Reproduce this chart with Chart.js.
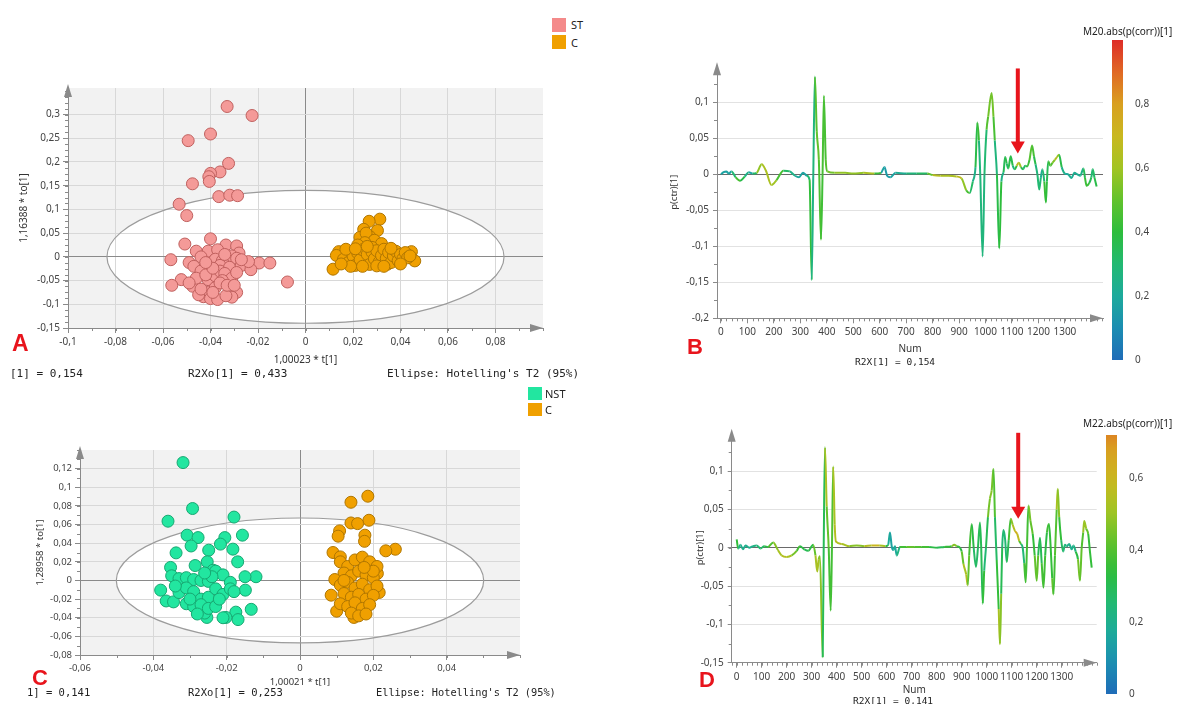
<!DOCTYPE html>
<html>
<head>
<meta charset="utf-8">
<script src="https://cdn.jsdelivr.net/npm/chart.js@4"></script>
<style>
body { margin: 0; background: #fff; }
#page { position: relative; width: 1196px; height: 704px; overflow: hidden; background: #fff; font-family: "Noto Sans", sans-serif; }
canvas { position: absolute; }
.t { position: absolute; white-space: nowrap; color: #222; line-height: 1; }
.mono { font-family: "DejaVu Sans Mono", monospace; }
.big { font-family: "Liberation Sans", Arial, sans-serif; font-weight: bold; color: #e8141c; }
.sw { position: absolute; width: 14px; height: 14px; }
</style>
</head>
<body>
<div id="page">
  <canvas id="chA" width="600" height="330" style="left:0;top:60px"></canvas>
  <canvas id="chC" width="560" height="284" style="left:0;top:420px"></canvas>
  <canvas id="chB" width="480" height="340" style="left:640px;top:40px"></canvas>
  <canvas id="chD" width="480" height="284" style="left:640px;top:420px"></canvas>
  <canvas id="cbB" width="96" height="340" style="left:1100px;top:30px"></canvas>
  <canvas id="cbD" width="102" height="279" style="left:1094px;top:425px"></canvas>

  <div class="sw" style="left:552px;top:18px;background:#f48a8a"></div>
  <div class="t" style="left:571px;top:19px;font-size:11px">ST</div>
  <div class="sw" style="left:552px;top:35px;background:#f0a000"></div>
  <div class="t" style="left:571px;top:37px;font-size:11px">C</div>

  <div class="sw" style="left:528px;top:387px;height:13px;background:#22e6a0"></div>
  <div class="t" style="left:545px;top:388px;font-size:11px">NST</div>
  <div class="sw" style="left:528px;top:403px;height:13px;background:#f0a000"></div>
  <div class="t" style="left:545px;top:404px;font-size:11px">C</div>

  <div class="t big" style="left:12px;top:332px;font-size:23px">A</div>
  <div class="t big" style="left:32px;top:667px;font-size:22px">C</div>
  <div class="t big" style="left:687px;top:336px;font-size:22px">B</div>
  <div class="t big" style="left:699px;top:669px;font-size:22px">D</div>

  <div class="t mono" style="left:10px;top:368px;font-size:11px">[1] = 0,154</div>
  <div class="t mono" style="left:188px;top:368px;font-size:11px">R2Xo[1] = 0,433</div>
  <div class="t mono" style="left:387px;top:368px;font-size:11px">Ellipse: Hotelling's T2 (95%)</div>

  <div class="t mono" style="left:27px;top:687px;font-size:10.5px">1] = 0,141</div>
  <div class="t mono" style="left:188px;top:687px;font-size:10.5px">R2Xo[1] = 0,253</div>
  <div class="t mono" style="left:376px;top:687px;font-size:10.3px">Ellipse: Hotelling's T2 (95%)</div>

  <div class="t mono" style="left:855px;top:357px;font-size:9.5px">R2X[1] = 0,154</div>
  <div class="t mono" style="left:853px;top:696px;font-size:9.5px">R2X[1] = 0,141</div>

  <div class="t" style="left:1083px;top:26px;font-size:10px">M20.abs(p(corr))[1]</div>
  <div class="t" style="left:1083px;top:418px;font-size:10px">M22.abs(p(corr))[1]</div>
</div>

<script>
// ---------- data ----------

// panel A, ST group (t[1], to[1])
const stX = [
  -0.033, -0.0225, -0.040, -0.0494, -0.0324, -0.036, -0.040, -0.0407, -0.0405, -0.0476,
  -0.0365, -0.0319, -0.0286, -0.0532, -0.050, -0.040, -0.0508, -0.0335, -0.029, -0.041,
  -0.046, -0.028, -0.037, -0.0567, -0.049, -0.044, -0.041, -0.038, -0.035, -0.033,
  -0.031, -0.029, -0.025, -0.0195, -0.015, -0.047, -0.036, -0.032, -0.027, -0.0523,
  -0.0563, -0.0475, -0.044, -0.046, -0.041, -0.038, -0.036, -0.034, -0.031, -0.029,
  -0.023, -0.0076, -0.042, -0.039, -0.035, -0.049, -0.024, -0.043, -0.0405, -0.029,
  -0.031, -0.045, -0.040, -0.037, -0.0335, -0.038, -0.036, -0.033, -0.044, -0.039,
  -0.027, -0.030, -0.042, -0.034
];
const stY = [
  0.317, 0.298, 0.259, 0.245, 0.197, 0.179, 0.176, 0.169, 0.159, 0.154,
  0.127, 0.130, 0.129, 0.111, 0.087, 0.038, 0.027, 0.025, 0.023, 0.012,
  0.012, 0.008, 0.015, -0.006, -0.012, 0.000, -0.014, -0.005, -0.008, -0.012,
  0.002, -0.003, -0.012, -0.013, -0.013, -0.020, -0.018, -0.022, -0.018, -0.048,
  -0.060, -0.062, -0.030, -0.045, -0.048, -0.040, -0.030, -0.035, -0.045, -0.033,
  -0.027, -0.053, -0.038, -0.024, -0.050, -0.055, -0.010, -0.084, -0.074, -0.075,
  -0.085, -0.080, -0.088, -0.090, -0.082, -0.065, -0.055, -0.060, -0.068, -0.075,
  -0.006, -0.060, -0.012, 0.005
];
// panel A, C group
const cAX = [
  0.0313, 0.0268, 0.0303, 0.0245, 0.0229, 0.027, 0.0255, 0.029, 0.025, 0.032,
  0.022, 0.028, 0.014, 0.0116, 0.046, 0.0446, 0.0417, 0.0345, 0.0257, 0.0185,
  0.013, 0.016, 0.018, 0.020, 0.021, 0.022, 0.023, 0.024, 0.026, 0.027,
  0.028, 0.029, 0.030, 0.031, 0.032, 0.033, 0.034, 0.035, 0.036, 0.037,
  0.038, 0.039, 0.040, 0.041, 0.042, 0.043, 0.017, 0.019, 0.024, 0.030,
  0.036, 0.040, 0.015, 0.021, 0.033, 0.026, 0.044
];
const cAY = [
  0.0795, 0.075, 0.0555, 0.058, 0.041, 0.043, 0.050, 0.035, 0.030, 0.028,
  0.025, 0.020, 0.011, -0.026, -0.0085, 0.011, 0.004, -0.0155, -0.010, 0.011,
  0.003, -0.005, -0.012, 0.002, -0.018, 0.008, -0.006, 0.015, 0.005, -0.016,
  0.010, -0.004, 0.013, -0.011, 0.003, 0.016, -0.003, 0.009, -0.012, 0.002,
  0.012, -0.008, 0.005, -0.004, 0.009, -0.002, 0.016, -0.020, -0.020, -0.019,
  0.018, -0.015, -0.015, 0.017, -0.020, 0.022, 0.002
];
// panel C, NST group
const nstX = [
  -0.0319, -0.0293, -0.036, -0.018, -0.0308, -0.0278, -0.0297, -0.0205, -0.0217, -0.0157,
  -0.0183, -0.0338, -0.0249, -0.017, -0.0253, -0.0353, -0.0286, -0.012, -0.015, -0.038,
  -0.0365, -0.0345, -0.0133, -0.0175, -0.0169, -0.0202, -0.0254, -0.026, -0.0149, -0.0237,
  -0.035, -0.033, -0.031, -0.029, -0.027, -0.025, -0.023, -0.021, -0.019, -0.033,
  -0.031, -0.029, -0.027, -0.025, -0.023, -0.021, -0.019, -0.018, -0.031, -0.029,
  -0.027, -0.025, -0.023, -0.021, -0.028, -0.030, -0.024, -0.026, -0.034, -0.022
];
const nstY = [
  0.1265, 0.0772, 0.0636, 0.068, 0.0486, 0.046, 0.037, 0.046, 0.039, 0.0486,
  0.0336, 0.0296, 0.0325, 0.020, 0.020, 0.014, 0.016, 0.004, 0.004, -0.0104,
  -0.022, -0.023, -0.031, -0.034, -0.042, -0.0397, -0.0397, -0.035, -0.0104, 0.011,
  0.005, 0.002, 0.003, 0.001, 0.000, -0.001, 0.010, 0.006, -0.002, -0.013,
  -0.008, -0.012, -0.020, -0.018, -0.009, -0.015, -0.009, -0.012, -0.025, -0.028,
  -0.026, -0.030, -0.028, -0.040, -0.036, -0.020, 0.004, 0.008, -0.006, -0.020
];
// panel C, C group
const cCX = [
  0.0185, 0.0139, 0.0188, 0.0139, 0.0157, 0.0108, 0.0104, 0.0177, 0.0176, 0.026,
  0.0234, 0.009, 0.011, 0.010, 0.0147, 0.0176, 0.0085, 0.0216, 0.0211, 0.011,
  0.013, 0.015, 0.017, 0.019, 0.021, 0.012, 0.014, 0.016, 0.018, 0.020,
  0.0095, 0.011, 0.013, 0.015, 0.017, 0.019, 0.021, 0.012, 0.014, 0.016,
  0.018, 0.020, 0.011, 0.013, 0.015, 0.017, 0.019, 0.014, 0.016, 0.018,
  0.012, 0.020, 0.0175
];
const cCY = [
  0.0904, 0.0839, 0.0646, 0.0617, 0.061, 0.0532, 0.0475, 0.0486, 0.042, 0.0335,
  0.0318, 0.030, 0.0253, -0.033, -0.0397, -0.033, -0.0158, -0.0129, 0.0075, 0.020,
  0.015, 0.022, 0.025, 0.020, 0.015, 0.008, 0.005, 0.010, 0.006, 0.003,
  0.001, -0.005, -0.002, -0.008, -0.004, -0.010, -0.006, -0.014, -0.018, -0.015,
  -0.020, -0.016, -0.025, -0.028, -0.024, -0.030, -0.026, -0.035, -0.038, -0.036,
  0.000, 0.010, 0.014
];

// panel B loading line: Num, p(ctr)[1], abs(p(corr))
const bNum = [
  0, 10, 20, 30, 40, 55, 72, 90, 105, 120,
  135, 154, 170, 191, 210, 236, 260, 280, 295, 310,
  325, 335, 343, 349, 355, 362, 370, 378, 384, 389,
  396, 402, 430, 470, 500, 540, 580, 605, 618, 628,
  640, 660, 700, 740, 780, 800, 830, 860, 890, 910,
  927, 940, 952, 962, 969, 975, 980, 989, 996, 1004,
  1010, 1023, 1030, 1035, 1043, 1052, 1060, 1068, 1074, 1080,
  1086, 1095, 1103, 1111, 1118, 1126, 1134, 1142, 1150, 1157,
  1166, 1176, 1183, 1189, 1196, 1203, 1209, 1215, 1222, 1228,
  1232, 1237, 1245, 1253, 1262, 1270, 1278, 1288, 1300, 1312,
  1325, 1336, 1347, 1358, 1370, 1376, 1382, 1392, 1400, 1405,
  1412, 1420
];
const bVal = [
  0.000, 0.003, 0.004, 0.001, 0.004, -0.004, -0.009, -0.003, 0.003, 0.001,
  0.002, 0.014, 0.005, -0.015, -0.008, 0.005, 0.004, -0.002, -0.004, 0.002,
  -0.002, -0.008, -0.147, 0.000, 0.136, 0.060, 0.020, -0.091, 0.000, 0.109,
  0.020, 0.004, 0.002, 0.002, 0.001, 0.002, 0.001, 0.002, 0.010, -0.002,
  -0.004, 0.002, 0.001, 0.001, 0.001, -0.001, -0.002, -0.002, -0.003, -0.006,
  -0.022, -0.026, -0.010, 0.010, 0.072, 0.047, 0.000, -0.114, 0.000, 0.062,
  0.080, 0.113, 0.080, 0.047, 0.000, -0.103, -0.010, 0.003, 0.024, 0.015,
  0.008, 0.025, 0.012, 0.007, 0.012, 0.016, 0.010, 0.007, 0.012, 0.011,
  0.020, 0.040, 0.025, 0.014, 0.000, -0.021, -0.005, 0.007, -0.010, -0.039,
  -0.010, 0.018, 0.012, 0.016, 0.020, 0.024, 0.027, 0.010, 0.001, 0.000,
  -0.005, 0.002, 0.000, -0.002, 0.008, -0.005, -0.016, -0.012, -0.004, 0.007,
  -0.005, -0.017
];
const bCorr = [
  0.15, 0.20, 0.15, 0.20, 0.15, 0.45, 0.45, 0.30, 0.20, 0.15,
  0.50, 0.65, 0.60, 0.65, 0.55, 0.35, 0.30, 0.20, 0.20, 0.15,
  0.20, 0.40, 0.42, 0.10, 0.45, 0.50, 0.50, 0.42, 0.45, 0.45,
  0.45, 0.50, 0.55, 0.60, 0.55, 0.60, 0.65, 0.20, 0.15, 0.15,
  0.15, 0.20, 0.25, 0.30, 0.35, 0.65, 0.65, 0.60, 0.65, 0.70,
  0.45, 0.45, 0.20, 0.30, 0.45, 0.40, 0.15, 0.40, 0.15, 0.45,
  0.50, 0.55, 0.50, 0.40, 0.15, 0.60, 0.20, 0.30, 0.40, 0.35,
  0.30, 0.45, 0.30, 0.25, 0.55, 0.80, 0.40, 0.30, 0.35, 0.40,
  0.45, 0.50, 0.40, 0.35, 0.20, 0.40, 0.20, 0.25, 0.35, 0.50,
  0.30, 0.40, 0.45, 0.50, 0.60, 0.70, 0.45, 0.30, 0.20, 0.20,
  0.25, 0.20, 0.25, 0.20, 0.30, 0.40, 0.45, 0.40, 0.30, 0.30,
  0.35, 0.40
];

// panel D loading line
const dNum = [
  0, 6, 15, 25, 35, 50, 65, 80, 95, 110,
  125, 146, 165, 180, 200, 220, 240, 253, 270, 286,
  306, 315, 322, 328, 333, 344, 348, 353, 360, 368,
  376, 381, 386, 392, 397, 420, 450, 480, 510, 540,
  570, 595, 606, 613, 620, 626, 633, 640, 653, 680,
  710, 740, 770, 800, 830, 860, 870, 880, 893, 900,
  907, 918, 924, 930, 940, 948, 957, 965, 973, 978,
  984, 990, 997, 1005, 1013, 1020, 1027, 1033, 1040, 1048,
  1053, 1058, 1062, 1067, 1074, 1080, 1088, 1096, 1104, 1113,
  1122, 1130, 1137, 1144, 1150, 1156, 1161, 1167, 1175, 1184,
  1192, 1200, 1206, 1213, 1220, 1227, 1234, 1241, 1249, 1256,
  1262, 1267, 1273, 1280, 1284, 1290, 1298, 1306, 1313, 1320,
  1330, 1340, 1347, 1356, 1365, 1373, 1380, 1386, 1390, 1398,
  1406, 1413, 1420
];
const dVal = [
  0.011, -0.001, 0.004, -0.002, 0.003, 0.000, 0.002, 0.003, -0.001, 0.002,
  0.001, 0.007, -0.003, -0.010, -0.012, -0.010, -0.004, 0.002, -0.002, -0.004,
  0.004, -0.010, -0.031, -0.015, -0.011, -0.143, 0.000, 0.131, 0.054, 0.000,
  -0.082, 0.000, 0.106, 0.030, 0.008, 0.005, 0.002, 0.003, 0.002, 0.003,
  0.003, 0.002, 0.004, 0.020, 0.002, -0.003, 0.002, -0.010, 0.001, 0.001,
  0.001, 0.001, 0.001, 0.000, 0.001, 0.002, 0.004, 0.002, 0.000, -0.005,
  -0.021, -0.035, -0.049, -0.010, 0.031, 0.000, -0.025, 0.000, 0.033, 0.000,
  -0.073, -0.030, 0.000, 0.040, 0.064, 0.075, 0.103, 0.040, -0.016, -0.080,
  -0.126, -0.060, 0.000, 0.023, 0.010, -0.019, 0.010, 0.038, 0.030, 0.022,
  0.018, 0.009, 0.005, 0.000, -0.020, -0.045, 0.000, 0.055, 0.035, 0.018,
  -0.010, -0.043, -0.010, 0.013, -0.020, -0.052, -0.010, 0.020, 0.031, 0.000,
  -0.040, -0.061, -0.010, 0.050, 0.077, 0.040, 0.010, -0.005, 0.004, 0.002,
  0.005, -0.002, 0.003, -0.005, -0.015, -0.043, 0.000, 0.020, 0.035, 0.025,
  0.018, -0.005, -0.026
];
const dCorr = [
  0.45, 0.25, 0.20, 0.20, 0.20, 0.20, 0.20, 0.25, 0.25, 0.30,
  0.35, 0.45, 0.50, 0.55, 0.55, 0.50, 0.40, 0.35, 0.30, 0.30,
  0.35, 0.50, 0.55, 0.50, 0.45, 0.50, 0.10, 0.50, 0.55, 0.30,
  0.45, 0.30, 0.50, 0.55, 0.55, 0.55, 0.50, 0.45, 0.50, 0.60,
  0.60, 0.45, 0.20, 0.15, 0.15, 0.15, 0.20, 0.15, 0.30, 0.45,
  0.40, 0.40, 0.35, 0.30, 0.30, 0.40, 0.55, 0.40, 0.30, 0.35,
  0.50, 0.55, 0.55, 0.30, 0.45, 0.20, 0.35, 0.20, 0.40, 0.20,
  0.40, 0.30, 0.20, 0.40, 0.50, 0.45, 0.45, 0.35, 0.20, 0.50,
  0.55, 0.40, 0.20, 0.30, 0.20, 0.30, 0.30, 0.45, 0.50, 0.60,
  0.65, 0.50, 0.30, 0.20, 0.30, 0.45, 0.30, 0.45, 0.45, 0.40,
  0.30, 0.55, 0.30, 0.30, 0.30, 0.45, 0.30, 0.35, 0.40, 0.30,
  0.40, 0.45, 0.30, 0.50, 0.55, 0.40, 0.30, 0.25, 0.25, 0.20,
  0.20, 0.20, 0.20, 0.25, 0.40, 0.50, 0.35, 0.45, 0.55, 0.45,
  0.40, 0.30, 0.40
];

// tick labels
const aXTicks = [-0.1, -0.08, -0.06, -0.04, -0.02, 0, 0.02, 0.04, 0.06, 0.08];
const aYTicks = [-0.15, -0.1, -0.05, 0, 0.05, 0.1, 0.15, 0.2, 0.25, 0.3];
const cXTicks = [-0.06, -0.04, -0.02, 0, 0.02, 0.04];
const cYTicks = [-0.08, -0.06, -0.04, -0.02, 0, 0.02, 0.04, 0.06, 0.08, 0.1, 0.12];
const numTicks = [0, 100, 200, 300, 400, 500, 600, 700, 800, 900, 1000, 1100, 1200, 1300];
const bYTicks = [-0.2, -0.15, -0.1, -0.05, 0, 0.05, 0.1];
const dYTicks = [-0.15, -0.1, -0.05, 0, 0.05, 0.1];
const cbBTicks = [0, 0.2, 0.4, 0.6, 0.8];
const cbDTicks = [0, 0.2, 0.4, 0.6];

// ---------- helpers ----------
Chart.defaults.font.family = '"Noto Sans", sans-serif';
Chart.defaults.color = '#444';

const cmapStops = [
  [0, '#1f6cb8'], [0.1, '#1b8db2'], [0.2, '#1daa9c'], [0.3, '#22b972'], [0.4, '#2dbd3c'],
  [0.5, '#62c22c'], [0.6, '#a2c423'], [0.7, '#c9b81f'], [0.8, '#d9a020'], [0.9, '#e06824'], [1, '#de2c28']
];
function hexRgb(h) { return [1, 3, 5].map(i => parseInt(h.substr(i, 2), 16)); }
function cmap(t) {
  t = Math.max(0, Math.min(1, t));
  for (let i = 1; i < cmapStops.length; i++) {
    const [t1, c1] = cmapStops[i];
    if (t <= t1) {
      const [t0, c0] = cmapStops[i - 1];
      const f = (t - t0) / (t1 - t0);
      const a = hexRgb(c0), b = hexRgb(c1);
      return 'rgb(' + a.map((v, k) => Math.round(v + (b[k] - v) * f)).join(',') + ')';
    }
  }
  return cmapStops[cmapStops.length - 1][1];
}

function fmt(v) {
  const r = Math.round(v * 1000) / 1000;
  return (r === 0 ? '0' : String(r)).replace('.', ',');
}
function fixedTicks(list) {
  return scale => { scale.ticks = list.map(v => ({ value: v })); };
}
function pts(xs, ys) { return xs.map((x, i) => ({ x: x, y: ys[i] })); }

function ellipsePath(chart, e) {
  const { ctx, scales: { x, y } } = chart;
  const cx = x.getPixelForValue(0), cy = y.getPixelForValue(0);
  const rx = x.getPixelForValue(e[0]) - cx, ry = cy - y.getPixelForValue(e[1]);
  ctx.beginPath();
  ctx.ellipse(cx, cy, rx, ry, 0, 0, Math.PI * 2);
}

// background, ellipse, minor ticks, axis arrows, red marker arrow
const panelDeco = {
  id: 'panelDeco',
  beforeDraw(chart, args, o) {
    if (!o.axes || !o.bg) return;
    const { ctx, chartArea: a } = chart;
    ctx.save();
    ctx.fillStyle = o.bg;
    ctx.fillRect(a.left, a.top, a.right - a.left, a.bottom - a.top);
    if (o.ellipse) {
      ellipsePath(chart, o.ellipse);
      ctx.fillStyle = '#fff';
      ctx.fill();
    }
    ctx.restore();
  },
  beforeDatasetsDraw(chart, args, o) {
    if (!o.axes || !o.ellipse) return;
    const ctx = chart.ctx;
    ctx.save();
    ellipsePath(chart, o.ellipse);
    ctx.strokeStyle = '#9c9c9c';
    ctx.lineWidth = 1.2;
    ctx.stroke();
    ctx.restore();
  },
  afterDraw(chart, args, o) {
    if (!o.axes) return;
    const { ctx, chartArea: a, scales: { x, y } } = chart;
    ctx.save();
    ctx.strokeStyle = '#8a8a8a';
    ctx.lineWidth = 1;
    ctx.beginPath();
    if (o.minorX) {
      for (let k = Math.ceil(x.min / o.minorX); k * o.minorX <= x.max; k++) {
        const px = Math.round(x.getPixelForValue(k * o.minorX)) + 0.5;
        ctx.moveTo(px, a.bottom); ctx.lineTo(px, a.bottom + 3);
      }
    }
    if (o.minorY) {
      for (let k = Math.ceil(y.min / o.minorY); k * o.minorY <= y.max; k++) {
        const py = Math.round(y.getPixelForValue(k * o.minorY)) + 0.5;
        ctx.moveTo(a.left - 3, py); ctx.lineTo(a.left, py);
      }
    }
    ctx.stroke();

    ctx.fillStyle = '#8a8a8a';
    ctx.beginPath();
    ctx.moveTo(a.left, a.top - 4);
    ctx.lineTo(a.left - 4, a.top + 9);
    ctx.lineTo(a.left + 4, a.top + 9);
    ctx.fill();
    ctx.beginPath();
    ctx.moveTo(a.right, a.bottom);
    ctx.lineTo(a.right - 13, a.bottom - 4);
    ctx.lineTo(a.right - 13, a.bottom + 4);
    ctx.fill();

    if (o.arrow) {
      const px = x.getPixelForValue(o.arrow.x);
      const p0 = y.getPixelForValue(o.arrow.y0);
      const p1 = y.getPixelForValue(o.arrow.y1);
      ctx.fillStyle = '#e8141c';
      ctx.fillRect(px - 2, p0, 4, p1 - p0 - 10);
      ctx.beginPath();
      ctx.moveTo(px - 7, p1 - 12);
      ctx.lineTo(px + 7, p1 - 12);
      ctx.lineTo(px, p1);
      ctx.fill();
    }
    ctx.restore();
  }
};
Chart.register(panelDeco);

function gridColor(light, zero) {
  return ctx => (ctx.tick && Math.abs(ctx.tick.value) < 1e-9) ? zero : light;
}

// ---------- score plots ----------
function scorePanel(id, p) {
  new Chart(document.getElementById(id), {
    type: 'scatter',
    data: {
      datasets: p.groups.map(g => ({
        data: g.data,
        backgroundColor: g.fill,
        borderColor: g.line,
        borderWidth: 1,
        pointRadius: 6
      }))
    },
    options: {
      responsive: false,
      animation: false,
      events: [],
      layout: { padding: p.pad },
      plugins: {
        legend: { display: false },
        tooltip: { enabled: false },
        panelDeco: { axes: true, bg: '#f2f2f2', ellipse: p.ellipse, minorX: p.minorX, minorY: p.minorY }
      },
      scales: {
        x: {
          type: 'linear', min: p.xMin, max: p.xMax,
          afterBuildTicks: fixedTicks(p.xTicks),
          afterFit: s => { s.height = p.xH; },
          ticks: { callback: v => fmt(v), font: { size: p.fs }, color: '#444', padding: 3, autoSkip: false, maxRotation: 0 },
          grid: { color: gridColor('#d8d8d8', '#8a8a8a'), tickLength: 5, tickColor: '#8a8a8a' },
          border: { color: '#8a8a8a' },
          title: { display: true, text: p.xTitle, font: { size: p.fs }, color: '#333', padding: { top: 0, bottom: 0 } }
        },
        y: {
          type: 'linear', min: p.yMin, max: p.yMax,
          afterBuildTicks: fixedTicks(p.yTicks),
          afterFit: s => { s.width = p.yW; },
          ticks: { callback: v => fmt(v), font: { size: p.fs }, color: '#444', padding: 3, autoSkip: false },
          grid: { color: gridColor('#d8d8d8', '#8a8a8a'), tickLength: 5, tickColor: '#8a8a8a' },
          border: { color: '#8a8a8a' },
          title: { display: true, text: p.yTitle, font: { size: p.fs }, color: '#333', padding: { top: p.yTitlePad, bottom: 0 } }
        }
      }
    }
  });
}

scorePanel('chA', {
  groups: [
    { data: pts(stX, stY), fill: '#f49a98', line: '#c0605e' },
    { data: pts(cAX, cAY), fill: '#f0a000', line: '#b07600' }
  ],
  xMin: -0.1, xMax: 0.1, yMin: -0.15, yMax: 0.356,
  xTicks: aXTicks, yTicks: aYTicks, minorX: 0.01, minorY: 0.0125,
  ellipse: [0.0836, 0.14],
  pad: { left: 0, top: 28, right: 57, bottom: 23.5 }, xH: 38.5, yW: 68, yTitlePad: 18, fs: 10,
  xTitle: '1,00023 * t[1]', yTitle: '1,16388 * to[1]'
});

scorePanel('chC', {
  groups: [
    { data: pts(nstX, nstY), fill: '#22e6a0', line: '#17a872' },
    { data: pts(cCX, cCY), fill: '#f0a000', line: '#b07600' }
  ],
  xMin: -0.06, xMax: 0.06, yMin: -0.08, yMax: 0.14,
  xTicks: cXTicks, yTicks: cYTicks, minorX: 0.01, minorY: 0.01,
  ellipse: [0.0501, 0.067],
  pad: { left: 0, top: 30, right: 40, bottom: 16 }, xH: 33, yW: 80, yTitlePad: 35, fs: 9.5,
  xTitle: '1,00021 * t[1]', yTitle: '1,28958 * to[1]'
});

// ---------- loading lines ----------
function loadingPanel(id, p) {
  new Chart(document.getElementById(id), {
    type: 'line',
    data: {
      datasets: [{
        data: pts(p.num, p.val),
        borderWidth: 2,
        borderColor: cmap(0.4),
        pointRadius: 0,
        cubicInterpolationMode: 'monotone',
        segment: {
          borderColor: ctx => cmap((p.corr[ctx.p0DataIndex] + p.corr[ctx.p1DataIndex]) / 2 / p.cMax)
        }
      }]
    },
    options: {
      responsive: false,
      animation: false,
      events: [],
      layout: { padding: p.pad },
      plugins: {
        legend: { display: false },
        tooltip: { enabled: false },
        panelDeco: { axes: true, minorX: 20, minorY: 0.025, arrow: p.arrow }
      },
      scales: {
        x: {
          type: 'linear', min: p.xMin, max: p.xMax,
          afterBuildTicks: fixedTicks(numTicks),
          afterFit: s => { s.height = p.xH; },
          ticks: { callback: v => String(v), font: { size: 10 }, color: '#444', padding: 3, autoSkip: false, maxRotation: 0 },
          grid: { drawOnChartArea: false, tickLength: 5, color: '#8a8a8a' },
          border: { color: '#8a8a8a' },
          title: { display: true, text: 'Num', font: { size: 10 }, color: '#333', padding: { top: 0, bottom: 0 } }
        },
        y: {
          type: 'linear', min: p.yMin, max: p.yMax,
          afterBuildTicks: fixedTicks(p.yTicks),
          afterFit: s => { s.width = p.yW; },
          ticks: { callback: v => fmt(v), font: { size: 10 }, color: '#444', padding: 4, autoSkip: false },
          grid: { color: gridColor('#e2e2e2', '#6a6a6a'), tickLength: 4, tickColor: '#8a8a8a' },
          border: { color: '#8a8a8a' },
          title: { display: true, text: 'p(ctr)[1]', font: { size: 9.5 }, color: '#333', padding: { top: p.yTitlePad, bottom: 0 } }
        }
      }
    }
  });
}

loadingPanel('chB', {
  num: bNum, val: bVal, corr: bCorr, cMax: 1,
  xMin: -15, xMax: 1444, yMin: -0.2, yMax: 0.15, yTicks: bYTicks,
  pad: { left: 0, top: 26.3, right: 17, bottom: 24.5 }, xH: 37.2, yW: 77, yTitlePad: 29,
  arrow: { x: 1122, y0: 0.147, y1: 0.029 }
});

loadingPanel('chD', {
  num: dNum, val: dVal, corr: dCorr, cMax: 0.85,
  xMin: -20, xMax: 1440, yMin: -0.15, yMax: 0.15, yTicks: dYTicks,
  pad: { left: 0, top: 12.8, right: 23.3, bottom: 7.5 }, xH: 33.8, yW: 91.7, yTitlePad: 55,
  arrow: { x: 1126, y0: 0.15, y1: 0.038 }
});

// ---------- colour bars ----------
function colorBar(id, p) {
  new Chart(document.getElementById(id), {
    type: 'bar',
    data: {
      labels: [''],
      datasets: [{
        data: [[0, p.max]],
        barPercentage: 1,
        categoryPercentage: 1,
        borderWidth: 0,
        backgroundColor: ctx => {
          const a = ctx.chart.chartArea;
          if (!a) return 'rgba(0,0,0,0)';
          const g = ctx.chart.ctx.createLinearGradient(0, a.bottom, 0, a.top);
          for (let k = 0; k <= 20; k++) g.addColorStop(k / 20, cmap((k / 20) * p.max / p.cMax));
          return g;
        }
      }]
    },
    options: {
      responsive: false,
      animation: false,
      events: [],
      layout: { padding: p.pad },
      plugins: { legend: { display: false }, tooltip: { enabled: false } },
      scales: {
        x: { display: false },
        y: {
          position: 'right', min: 0, max: p.max,
          afterBuildTicks: fixedTicks(p.ticks),
          afterFit: s => { s.width = p.w; },
          ticks: { callback: v => fmt(v), font: { size: 10 }, color: '#444', padding: 4 },
          grid: { display: false },
          border: { display: false }
        }
      }
    }
  });
}

colorBar('cbB', { max: 1, cMax: 1, ticks: cbBTicks, pad: { left: 12, top: 7, right: 0, bottom: 8 }, w: 73 });
colorBar('cbD', { max: 0.721, cMax: 0.85, ticks: cbDTicks, pad: { left: 12, top: 7, right: 0, bottom: 2.6 }, w: 79 });
</script>
</body>
</html>
